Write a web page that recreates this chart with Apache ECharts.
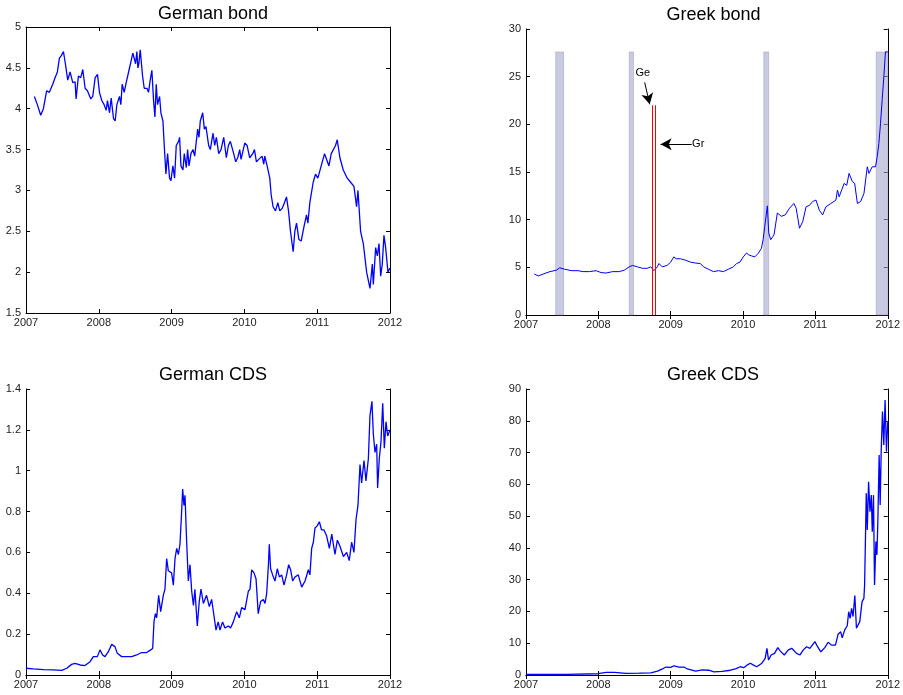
<!DOCTYPE html>
<html><head><meta charset="utf-8">
<script src="https://cdn.jsdelivr.net/npm/echarts@6/dist/echarts.min.js"></script>
<style>html,body{margin:0;padding:0;background:#fff}#c{width:903px;height:695px}</style>
</head><body><div id="c"></div>
<script>
// ---------- DATA ----------
const xTicks = [2007, 2008, 2009, 2010, 2011, 2012];
const titles = ['German bond', 'Greek bond', 'German CDS', 'Greek CDS'];

// German bond yield
const gerBondT = [2007.115,2007.156,2007.202,2007.239,2007.284,2007.321,2007.367,2007.399,2007.431,2007.459,2007.486,2007.514,2007.541,2007.573,2007.606,2007.642,2007.674,2007.688,2007.720,2007.752,2007.780,2007.812,2007.844,2007.890,2007.917,2007.950,2007.982,
2008.009,2008.041,2008.073,2008.101,2008.119,2008.147,2008.170,2008.202,2008.225,2008.248,2008.284,2008.303,2008.321,2008.349,2008.376,2008.399,2008.417,2008.440,2008.468,2008.486,2008.505,2008.523,2008.537,2008.550,2008.569,2008.601,2008.624,2008.661,2008.683,2008.706,2008.729,2008.752,2008.771,2008.789,2008.807,2008.835,2008.853,2008.881,2008.899,2008.922,2008.945,2008.972,2008.991,
2009.018,2009.041,2009.064,2009.096,2009.110,2009.128,2009.156,2009.174,2009.202,2009.220,2009.239,2009.266,2009.294,2009.317,2009.358,2009.376,2009.394,2009.427,2009.450,2009.472,2009.509,2009.532,2009.569,2009.592,2009.615,2009.647,2009.679,2009.716,2009.752,2009.780,2009.807,2009.853,2009.881,2009.908,2009.936,2009.954,
2010.005,2010.037,2010.073,2010.115,2010.138,2010.165,2010.197,2010.243,2010.266,2010.280,2010.312,2010.349,2010.367,2010.394,2010.427,2010.459,2010.486,2010.518,2010.550,2010.578,2010.606,2010.633,2010.670,2010.693,2010.716,2010.748,2010.780,2010.817,2010.853,2010.872,2010.899,2010.945,2010.977,
2011.009,2011.055,2011.101,2011.161,2011.193,2011.252,2011.275,2011.312,2011.358,2011.413,2011.459,2011.505,2011.541,2011.560,2011.596,2011.633,2011.679,2011.725,2011.757,2011.771,2011.803,2011.826,2011.849,2011.872,2011.894,2011.917,2011.940,2011.972,2012.0];
const gerBondV = [4.15,4.05,3.92,4.00,4.22,4.20,4.30,4.38,4.45,4.62,4.65,4.70,4.55,4.35,4.45,4.32,4.33,4.12,4.40,4.38,4.48,4.25,4.22,4.12,4.15,4.38,4.42,
4.20,4.10,4.05,3.98,4.10,3.95,4.13,3.88,3.85,4.05,4.15,4.05,4.30,4.20,4.32,4.30,4.48,4.50,4.68,4.70,4.55,4.70,4.50,4.55,4.72,4.40,4.25,4.25,4.20,4.35,4.47,4.10,3.90,4.30,4.05,4.15,3.95,3.85,3.55,3.20,3.45,3.15,3.12,
3.30,3.15,3.55,3.60,3.65,3.30,3.25,3.45,3.28,3.50,3.30,3.45,3.50,3.42,3.75,3.65,3.85,3.95,3.75,3.78,3.55,3.50,3.70,3.55,3.65,3.45,3.50,3.65,3.40,3.55,3.60,3.45,3.35,3.40,3.50,3.38,
3.58,3.55,3.40,3.45,3.50,3.35,3.38,3.42,3.32,3.42,3.30,3.15,2.95,2.80,2.75,2.85,2.75,2.78,2.85,2.92,2.75,2.50,2.25,2.50,2.60,2.40,2.38,2.55,2.70,2.60,2.85,3.10,3.20,
3.15,3.30,3.45,3.30,3.45,3.55,3.62,3.40,3.25,3.15,3.10,3.05,2.80,3.00,2.50,2.35,2.00,1.80,2.10,1.85,2.30,2.20,2.35,1.95,2.10,2.45,2.30,2.00,2.05];

// Greek bond yield
const grBondT = [2007.114,2007.170,2007.238,2007.330,2007.420,2007.466,2007.535,2007.626,2007.718,2007.786,2007.877,2007.969,
2008.037,2008.106,2008.197,2008.289,2008.357,2008.426,2008.472,2008.540,2008.609,2008.677,2008.723,2008.769,2008.814,2008.837,2008.883,2008.950,
2009.000,2009.043,2009.075,2009.134,2009.203,2009.271,2009.340,2009.409,2009.454,2009.523,2009.591,2009.660,2009.728,2009.797,2009.866,2009.911,2009.957,
2010.003,2010.048,2010.080,2010.117,2010.162,2010.208,2010.254,2010.277,2010.300,2010.323,2010.336,2010.355,2010.382,2010.428,2010.474,2010.528,2010.583,2010.642,2010.702,2010.734,2010.780,2010.825,2010.871,2010.917,2010.962,
2011.008,2011.054,2011.100,2011.145,2011.214,2011.283,2011.305,2011.328,2011.397,2011.433,2011.465,2011.511,2011.543,2011.580,2011.625,2011.671,2011.717,2011.740,2011.785,2011.831,2011.854,2011.877,2011.900,2011.923,2011.946,2011.968,2012.0];
const grBondV = [4.3,4.1,4.3,4.55,4.7,4.95,4.8,4.65,4.65,4.55,4.55,4.65,
4.45,4.4,4.55,4.55,4.7,5.05,5.2,5.05,4.9,4.9,5.05,4.65,5.05,5.4,5.05,5.2,
5.55,6.1,5.9,5.9,5.75,5.55,5.45,5.4,5.05,4.8,4.55,4.65,4.55,4.8,5.05,5.4,5.55,
6.1,6.5,6.3,6.2,6.1,6.45,7.0,7.9,9.3,10.7,11.45,8.6,7.9,8.4,10.7,10.35,10.5,11.2,11.7,11.2,9.1,9.8,11.35,11.5,11.9,
12.05,11.0,10.5,11.35,11.7,12.05,13.1,12.4,13.8,13.6,14.85,14.0,13.8,11.7,11.9,12.75,15.55,14.85,15.55,15.55,16.6,18.0,20.1,22.6,25.0,27.6,27.6];

// Shaded episodes and event lines on the Greek bond panel
const bandStart = [2007.41, 2008.426, 2010.286, 2011.84];
const bandEnd   = [2007.52, 2008.486, 2010.355, 2012.0];
const bandTop = 27.6;
const eventYears = [2008.745, 2008.782];
const eventTop = 22;
const eventLabels = ['Ge', 'Gr'];

// German CDS
const gerCdsT = [2007.0,2007.1,2007.24,2007.375,2007.49,2007.56,2007.627,2007.673,2007.742,2007.81,2007.88,2007.925,2007.98,
2008.016,2008.053,2008.085,2008.131,2008.177,2008.222,2008.254,2008.314,2008.383,2008.452,2008.52,2008.589,2008.658,2008.712,2008.74,2008.758,2008.777,2008.795,2008.822,2008.85,2008.886,2008.909,2008.932,2008.955,
2009.0,2009.024,2009.047,2009.07,2009.093,2009.115,2009.138,2009.152,2009.17,2009.184,2009.207,2009.23,2009.253,2009.276,2009.3,2009.32,2009.353,2009.38,2009.404,2009.436,2009.48,2009.518,2009.55,2009.582,2009.61,2009.64,2009.665,2009.7,2009.733,2009.78,2009.81,2009.848,2009.894,2009.93,2009.962,
2010.008,2010.054,2010.077,2010.1,2010.132,2010.16,2010.19,2010.223,2010.26,2010.283,2010.306,2010.33,2010.342,2010.36,2010.388,2010.42,2010.452,2010.48,2010.512,2010.544,2010.58,2010.608,2010.635,2010.663,2010.695,2010.74,2010.787,2010.833,2010.878,2010.9,2010.924,2010.947,2010.97,
2011.0,2011.03,2011.06,2011.093,2011.13,2011.167,2011.2,2011.244,2011.277,2011.313,2011.36,2011.405,2011.44,2011.473,2011.505,2011.533,2011.56,2011.588,2011.61,2011.643,2011.67,2011.703,2011.725,2011.752,2011.771,2011.794,2011.817,2011.83,2011.853,2011.876,2011.9,2011.922,2011.945,2011.968,2012.0];
const gerCdsV = [0.033,0.03,0.026,0.025,0.023,0.033,0.052,0.057,0.049,0.046,0.065,0.09,0.09,
0.123,0.098,0.09,0.114,0.15,0.139,0.106,0.09,0.09,0.09,0.098,0.11,0.11,0.123,0.13,0.26,0.30,0.28,0.39,0.31,0.39,0.42,0.57,0.51,
0.50,0.44,0.57,0.62,0.59,0.64,0.80,0.91,0.83,0.88,0.65,0.46,0.54,0.41,0.34,0.42,0.24,0.36,0.42,0.35,0.39,0.335,0.37,0.29,0.22,0.26,0.22,0.26,0.23,0.24,0.23,0.26,0.31,0.28,0.33,
0.32,0.41,0.42,0.515,0.50,0.47,0.30,0.36,0.37,0.35,0.40,0.54,0.64,0.52,0.49,0.46,0.52,0.48,0.49,0.44,0.49,0.54,0.515,0.46,0.48,0.49,0.43,0.46,0.515,0.49,0.62,0.65,0.72,
0.73,0.75,0.71,0.71,0.68,0.62,0.69,0.59,0.66,0.63,0.58,0.60,0.56,0.65,0.60,0.76,0.83,1.03,0.94,1.05,0.95,1.06,1.27,1.34,1.18,1.09,1.13,0.915,1.06,1.14,1.33,1.11,1.24,1.17,1.20];

// Greek CDS
const grCdsT = [2007.0,2007.56,2007.995,2008.11,2008.22,2008.383,2008.566,2008.726,2008.818,2008.886,2008.932,
2009.0,2009.047,2009.115,2009.184,2009.23,2009.344,2009.436,2009.527,2009.596,2009.71,2009.825,2009.894,2009.962,
2010.008,2010.054,2010.1,2010.145,2010.19,2010.26,2010.306,2010.33,2010.352,2010.388,2010.435,2010.48,2010.512,2010.57,2010.626,2010.672,2010.74,2010.787,2010.833,2010.878,2010.924,2010.993,
2011.03,2011.075,2011.13,2011.176,2011.222,2011.277,2011.313,2011.35,2011.37,2011.405,2011.44,2011.46,2011.48,2011.5,2011.52,2011.545,2011.567,2011.613,2011.645,2011.67,2011.68,2011.703,2011.717,2011.735,2011.754,2011.772,2011.786,2011.803,2011.817,2011.836,2011.85,2011.863,2011.881,2011.895,2011.909,2011.927,2011.945,2011.963,2011.982,2012.0];
const grCdsV = [0.2,0.2,0.4,0.8,0.8,0.5,0.6,0.7,1.2,1.9,2.5,
2.4,2.9,2.5,2.5,1.9,1.2,1.6,1.5,1.0,1.15,1.5,1.9,2.6,
2.3,3.1,3.7,3.1,2.6,3.7,5.2,8.4,4.7,6.3,6.8,8.6,7.6,6.3,7.9,8.4,6.8,6.3,7.9,8.9,8.4,10.5,
8.9,7.3,8.6,10.3,9.4,9.4,12.8,13.6,11.7,14.2,15.5,19.9,17.8,21.0,18.4,25.0,14.7,16.8,23.1,24.1,28.3,57.2,45.6,60.8,51.4,56.6,45.1,56.6,28.3,42.0,37.8,48.3,69.2,53.5,70.3,82.9,72.4,86.5,70.3,79.7];

// ---------- CHART ----------
const FONT = 'Liberation Sans, Arial, sans-serif';
const grids = [
  {left: 26, top: 27, width: 364, height: 286},
  {left: 526, top: 29, width: 365, height: 286},
  {left: 26, top: 389, width: 364, height: 286},
  {left: 526, top: 389, width: 364, height: 286}
];
const yCfg = [
  {min: 1.5, max: 5, interval: 0.5},
  {min: 0, max: 30, interval: 5},
  {min: 0, max: 1.4, interval: 0.2},
  {min: 0, max: 90, interval: 10}
];
const titleY = [0, 1, 361, 361];

const xAxes = [], yAxes = [];
grids.forEach((g, i) => {
  const axLine = {show: true, lineStyle: {color: '#000', width: 1}};
  xAxes.push({type: 'value', gridIndex: i, position: 'bottom', min: 2007, max: 2012, interval: 1,
    axisLine: axLine, axisTick: {show: true, inside: true, length: 4, lineStyle: {color: '#000'}},
    axisLabel: {fontSize: 11, color: '#222', fontFamily: FONT, margin: 4, formatter: v => String(Math.round(v))},
    splitLine: {show: false}});
  xAxes.push({type: 'value', gridIndex: i, position: 'top', min: 2007, max: 2012, interval: 1,
    axisLine: axLine, axisTick: {show: true, inside: true, length: 4, lineStyle: {color: '#000'}},
    axisLabel: {show: false}, splitLine: {show: false}});
  yAxes.push(Object.assign({type: 'value', gridIndex: i, position: 'left',
    axisLine: axLine, axisTick: {show: true, inside: true, length: 4, lineStyle: {color: '#000'}},
    axisLabel: {fontSize: 11, color: '#222', fontFamily: FONT, margin: 5},
    splitLine: {show: false}}, yCfg[i]));
  yAxes.push(Object.assign({type: 'value', gridIndex: i, position: 'right',
    axisLine: axLine, axisTick: {show: true, inside: true, length: 4, lineStyle: {color: '#000'}},
    axisLabel: {show: false}, splitLine: {show: false}}, yCfg[i]));
});

const zip = (t, v) => t.map((x, k) => [x, v[k]]);
const lineSeries = (i, data, w) => ({
  type: 'line', xAxisIndex: 2 * i, yAxisIndex: 2 * i, data: data, showSymbol: false, symbol: 'none',
  lineStyle: {color: '#0000ff', width: w}, animation: false, z: 3
});

const bandData = bandStart.map((s, k) => [{xAxis: s, yAxis: 0}, {xAxis: bandEnd[k], yAxis: bandTop}]);

const series = [
  lineSeries(0, zip(gerBondT, gerBondV), 1.3),
  Object.assign(lineSeries(1, zip(grBondT, grBondV), 1), {
    markArea: {silent: true, itemStyle: {color: 'rgba(165,165,205,0.6)', borderColor: 'rgba(140,140,190,0.8)', borderWidth: 0.5}, data: bandData}
  }),
  lineSeries(2, zip(gerCdsT, gerCdsV), 1.3),
  lineSeries(3, zip(grCdsT, grCdsV), 1.3),
  // event lines (red)
  {
    type: 'line', xAxisIndex: 2, yAxisIndex: 2, data: [], animation: false, z: 4,
    markLine: {
      silent: true, symbol: ['none', 'none'], label: {show: false},
      lineStyle: {color: '#ff0000', width: 1, type: 'solid'},
      data: eventYears.map(x => [{coord: [x, 0]}, {coord: [x, eventTop]}])
    }
  },
  // annotation arrows and labels
  {
    type: 'line', xAxisIndex: 2, yAxisIndex: 2, data: [], animation: false, z: 5,
    markLine: {
      silent: true, label: {show: false}, symbolSize: [9, 11],
      lineStyle: {color: '#000', width: 1, type: 'solid'},
      data: [
        [{coord: [2008.64, 24.4], symbol: 'none'}, {coord: [2008.71, 22.1], symbol: 'arrow'}],
        [{coord: [2009.29, 17.9], symbol: 'none'}, {coord: [2008.86, 17.9], symbol: 'arrow'}]
      ]
    },
    markPoint: {
      silent: true, symbol: 'circle', symbolSize: 0,
      label: {show: true, position: 'inside', color: '#000', fontSize: 11, fontFamily: FONT},
      data: [
        {coord: [2008.615, 25.4], label: {formatter: eventLabels[0]}},
        {coord: [2009.38, 17.9], label: {formatter: eventLabels[1]}}
      ]
    }
  }
];

const chart = echarts.init(document.getElementById('c'), null, {renderer: 'canvas'});
chart.setOption({
  backgroundColor: '#fff',
  animation: false,
  title: titles.map((t, i) => ({
    text: t, left: grids[i].left + grids[i].width / 2, top: titleY[i], textAlign: 'center',
    textStyle: {fontSize: 18, fontWeight: 'normal', color: '#000', fontFamily: FONT}
  })),
  grid: grids.map(g => Object.assign({containLabel: false}, g)),
  xAxis: xAxes,
  yAxis: yAxes,
  series: series
});
</script>
</body></html>
